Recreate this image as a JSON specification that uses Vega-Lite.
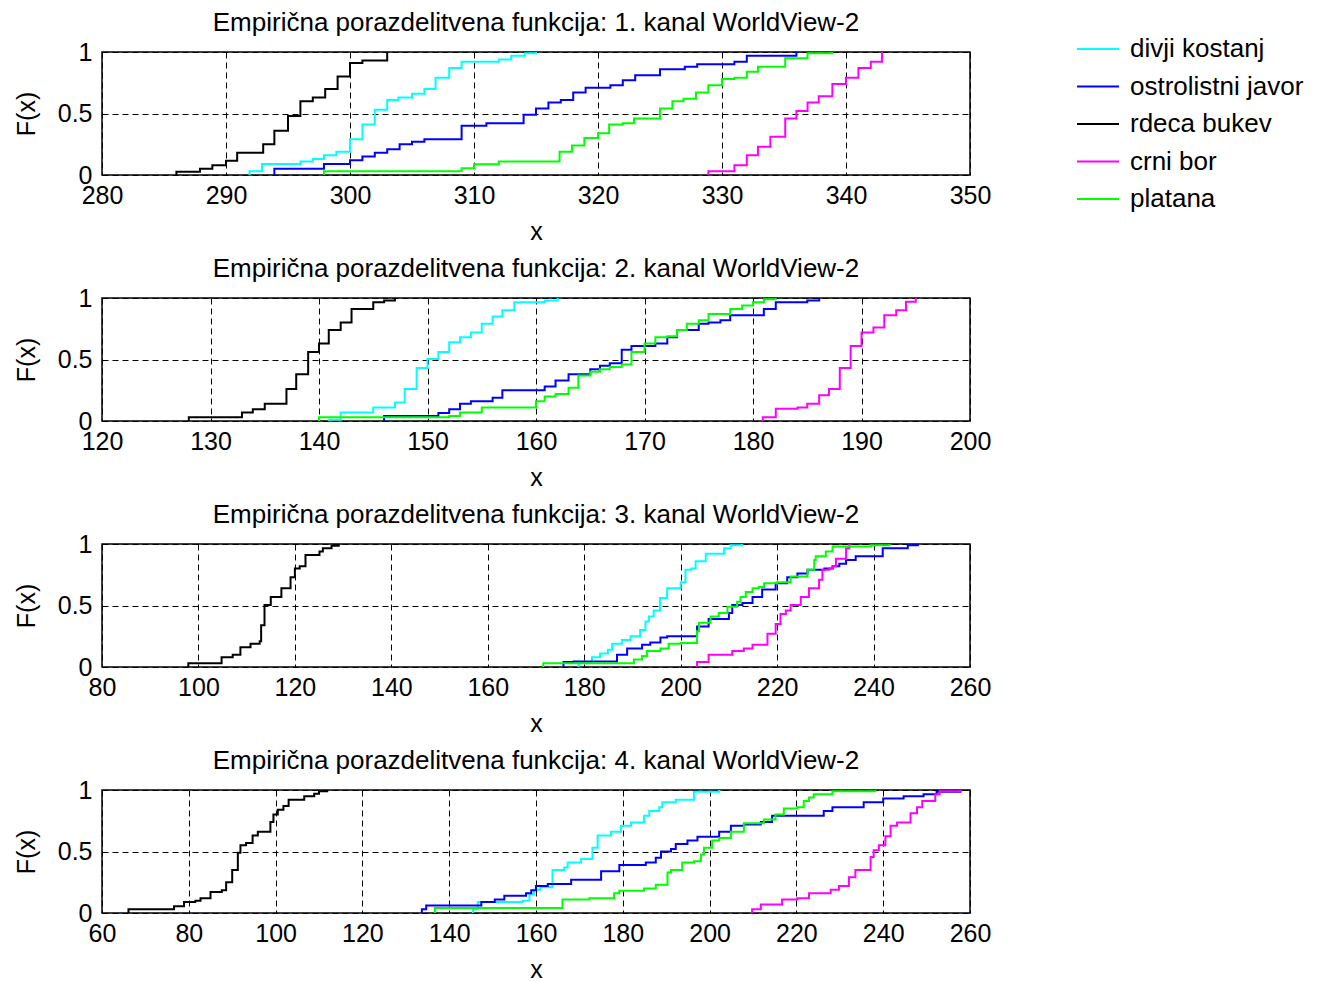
{
"$schema": "https://vega.github.io/schema/vega-lite/v6.json",
"background": "white",
"padding": {"left": 13, "top": 9, "right": 10, "bottom": 5},
"datasets": {"d": [
{"p":1,"s":"divji kostanj","x":291.9,"F":0},{"p":1,"s":"divji kostanj","x":291.9,"F":0.03},{"p":1,"s":"divji kostanj","x":292.9,"F":0.09},{"p":1,"s":"divji kostanj","x":296,"F":0.11},{"p":1,"s":"divji kostanj","x":297,"F":0.13},{"p":1,"s":"divji kostanj","x":297.9,"F":0.16},{"p":1,"s":"divji kostanj","x":298.9,"F":0.19},{"p":1,"s":"divji kostanj","x":300,"F":0.29},{"p":1,"s":"divji kostanj","x":301,"F":0.41},{"p":1,"s":"divji kostanj","x":302,"F":0.53},{"p":1,"s":"divji kostanj","x":303,"F":0.61},{"p":1,"s":"divji kostanj","x":303.9,"F":0.63},{"p":1,"s":"divji kostanj","x":305,"F":0.66},{"p":1,"s":"divji kostanj","x":306,"F":0.70},{"p":1,"s":"divji kostanj","x":306.9,"F":0.79},{"p":1,"s":"divji kostanj","x":308,"F":0.87},{"p":1,"s":"divji kostanj","x":309,"F":0.92},{"p":1,"s":"divji kostanj","x":312,"F":0.94},{"p":1,"s":"divji kostanj","x":313,"F":0.97},{"p":1,"s":"divji kostanj","x":314.1,"F":0.99},{"p":1,"s":"divji kostanj","x":315,"F":1},
{"p":1,"s":"ostrolistni javor","x":293.9,"F":0},{"p":1,"s":"ostrolistni javor","x":293.9,"F":0.05},{"p":1,"s":"ostrolistni javor","x":297.9,"F":0.09},{"p":1,"s":"ostrolistni javor","x":300,"F":0.12},{"p":1,"s":"ostrolistni javor","x":301,"F":0.15},{"p":1,"s":"ostrolistni javor","x":302,"F":0.18},{"p":1,"s":"ostrolistni javor","x":303,"F":0.21},{"p":1,"s":"ostrolistni javor","x":304,"F":0.25},{"p":1,"s":"ostrolistni javor","x":305,"F":0.27},{"p":1,"s":"ostrolistni javor","x":306,"F":0.29},{"p":1,"s":"ostrolistni javor","x":309,"F":0.40},{"p":1,"s":"ostrolistni javor","x":311,"F":0.42},{"p":1,"s":"ostrolistni javor","x":314,"F":0.49},{"p":1,"s":"ostrolistni javor","x":315,"F":0.54},{"p":1,"s":"ostrolistni javor","x":316,"F":0.59},{"p":1,"s":"ostrolistni javor","x":317,"F":0.61},{"p":1,"s":"ostrolistni javor","x":318,"F":0.67},{"p":1,"s":"ostrolistni javor","x":319,"F":0.71},{"p":1,"s":"ostrolistni javor","x":321,"F":0.73},{"p":1,"s":"ostrolistni javor","x":322,"F":0.77},{"p":1,"s":"ostrolistni javor","x":323,"F":0.81},{"p":1,"s":"ostrolistni javor","x":325,"F":0.86},{"p":1,"s":"ostrolistni javor","x":327,"F":0.88},{"p":1,"s":"ostrolistni javor","x":328,"F":0.90},{"p":1,"s":"ostrolistni javor","x":331,"F":0.92},{"p":1,"s":"ostrolistni javor","x":332,"F":0.97},{"p":1,"s":"ostrolistni javor","x":336,"F":1},
{"p":1,"s":"rdeca bukev","x":286,"F":0},{"p":1,"s":"rdeca bukev","x":286,"F":0.027},{"p":1,"s":"rdeca bukev","x":287.9,"F":0.05},{"p":1,"s":"rdeca bukev","x":288.9,"F":0.08},{"p":1,"s":"rdeca bukev","x":290,"F":0.115},{"p":1,"s":"rdeca bukev","x":290.9,"F":0.18},{"p":1,"s":"rdeca bukev","x":293,"F":0.25},{"p":1,"s":"rdeca bukev","x":293.9,"F":0.36},{"p":1,"s":"rdeca bukev","x":295,"F":0.48},{"p":1,"s":"rdeca bukev","x":296,"F":0.60},{"p":1,"s":"rdeca bukev","x":297,"F":0.63},{"p":1,"s":"rdeca bukev","x":298,"F":0.70},{"p":1,"s":"rdeca bukev","x":299,"F":0.80},{"p":1,"s":"rdeca bukev","x":300,"F":0.91},{"p":1,"s":"rdeca bukev","x":301,"F":0.93},{"p":1,"s":"rdeca bukev","x":303,"F":1},
{"p":1,"s":"crni bor","x":328.9,"F":0},{"p":1,"s":"crni bor","x":328.9,"F":0.03},{"p":1,"s":"crni bor","x":331,"F":0.08},{"p":1,"s":"crni bor","x":332,"F":0.16},{"p":1,"s":"crni bor","x":332.9,"F":0.23},{"p":1,"s":"crni bor","x":333.9,"F":0.31},{"p":1,"s":"crni bor","x":335.1,"F":0.46},{"p":1,"s":"crni bor","x":336,"F":0.52},{"p":1,"s":"crni bor","x":336.9,"F":0.59},{"p":1,"s":"crni bor","x":337.8,"F":0.64},{"p":1,"s":"crni bor","x":338.9,"F":0.74},{"p":1,"s":"crni bor","x":340,"F":0.79},{"p":1,"s":"crni bor","x":341,"F":0.87},{"p":1,"s":"crni bor","x":342,"F":0.92},{"p":1,"s":"crni bor","x":342.9,"F":1},
{"p":1,"s":"platana","x":297.9,"F":0},{"p":1,"s":"platana","x":297.9,"F":0.03},{"p":1,"s":"platana","x":309,"F":0.055},{"p":1,"s":"platana","x":310,"F":0.088},{"p":1,"s":"platana","x":312,"F":0.11},{"p":1,"s":"platana","x":316.9,"F":0.19},{"p":1,"s":"platana","x":317.9,"F":0.24},{"p":1,"s":"platana","x":318.9,"F":0.30},{"p":1,"s":"platana","x":320,"F":0.34},{"p":1,"s":"platana","x":320.9,"F":0.41},{"p":1,"s":"platana","x":322,"F":0.42},{"p":1,"s":"platana","x":322.9,"F":0.46},{"p":1,"s":"platana","x":325,"F":0.54},{"p":1,"s":"platana","x":326,"F":0.60},{"p":1,"s":"platana","x":326.9,"F":0.62},{"p":1,"s":"platana","x":327.9,"F":0.67},{"p":1,"s":"platana","x":328.9,"F":0.73},{"p":1,"s":"platana","x":330,"F":0.78},{"p":1,"s":"platana","x":331,"F":0.79},{"p":1,"s":"platana","x":332,"F":0.84},{"p":1,"s":"platana","x":332.9,"F":0.88},{"p":1,"s":"platana","x":335.1,"F":0.95},{"p":1,"s":"platana","x":336.9,"F":0.99},{"p":1,"s":"platana","x":338.9,"F":1},
{"p":2,"s":"divji kostanj","x":140.9,"F":0},{"p":2,"s":"divji kostanj","x":140.9,"F":0.01},{"p":2,"s":"divji kostanj","x":142,"F":0.07},{"p":2,"s":"divji kostanj","x":145,"F":0.11},{"p":2,"s":"divji kostanj","x":147,"F":0.15},{"p":2,"s":"divji kostanj","x":147.9,"F":0.26},{"p":2,"s":"divji kostanj","x":149,"F":0.43},{"p":2,"s":"divji kostanj","x":150,"F":0.505},{"p":2,"s":"divji kostanj","x":151,"F":0.56},{"p":2,"s":"divji kostanj","x":152,"F":0.64},{"p":2,"s":"divji kostanj","x":153,"F":0.68},{"p":2,"s":"divji kostanj","x":154,"F":0.72},{"p":2,"s":"divji kostanj","x":155,"F":0.79},{"p":2,"s":"divji kostanj","x":156,"F":0.85},{"p":2,"s":"divji kostanj","x":156.9,"F":0.90},{"p":2,"s":"divji kostanj","x":158,"F":0.965},{"p":2,"s":"divji kostanj","x":160.8,"F":0.98},{"p":2,"s":"divji kostanj","x":162,"F":1},
{"p":2,"s":"ostrolistni javor","x":146,"F":0},{"p":2,"s":"ostrolistni javor","x":146,"F":0.04},{"p":2,"s":"ostrolistni javor","x":151,"F":0.065},{"p":2,"s":"ostrolistni javor","x":152,"F":0.095},{"p":2,"s":"ostrolistni javor","x":153,"F":0.14},{"p":2,"s":"ostrolistni javor","x":154,"F":0.16},{"p":2,"s":"ostrolistni javor","x":156,"F":0.19},{"p":2,"s":"ostrolistni javor","x":156.9,"F":0.25},{"p":2,"s":"ostrolistni javor","x":160.8,"F":0.28},{"p":2,"s":"ostrolistni javor","x":161.8,"F":0.33},{"p":2,"s":"ostrolistni javor","x":163,"F":0.38},{"p":2,"s":"ostrolistni javor","x":165,"F":0.42},{"p":2,"s":"ostrolistni javor","x":165.9,"F":0.45},{"p":2,"s":"ostrolistni javor","x":166.8,"F":0.47},{"p":2,"s":"ostrolistni javor","x":167.9,"F":0.58},{"p":2,"s":"ostrolistni javor","x":168.8,"F":0.61},{"p":2,"s":"ostrolistni javor","x":171,"F":0.63},{"p":2,"s":"ostrolistni javor","x":172.1,"F":0.68},{"p":2,"s":"ostrolistni javor","x":173,"F":0.74},{"p":2,"s":"ostrolistni javor","x":175,"F":0.79},{"p":2,"s":"ostrolistni javor","x":175.9,"F":0.80},{"p":2,"s":"ostrolistni javor","x":177,"F":0.82},{"p":2,"s":"ostrolistni javor","x":177.9,"F":0.86},{"p":2,"s":"ostrolistni javor","x":181,"F":0.91},{"p":2,"s":"ostrolistni javor","x":182.1,"F":0.965},{"p":2,"s":"ostrolistni javor","x":185,"F":0.98},{"p":2,"s":"ostrolistni javor","x":186.1,"F":1},
{"p":2,"s":"rdeca bukev","x":128,"F":0},{"p":2,"s":"rdeca bukev","x":128,"F":0.03},{"p":2,"s":"rdeca bukev","x":132.9,"F":0.07},{"p":2,"s":"rdeca bukev","x":133.9,"F":0.095},{"p":2,"s":"rdeca bukev","x":135,"F":0.14},{"p":2,"s":"rdeca bukev","x":137,"F":0.26},{"p":2,"s":"rdeca bukev","x":137.9,"F":0.38},{"p":2,"s":"rdeca bukev","x":139,"F":0.56},{"p":2,"s":"rdeca bukev","x":140,"F":0.63},{"p":2,"s":"rdeca bukev","x":140.9,"F":0.74},{"p":2,"s":"rdeca bukev","x":142,"F":0.80},{"p":2,"s":"rdeca bukev","x":143,"F":0.91},{"p":2,"s":"rdeca bukev","x":145,"F":0.965},{"p":2,"s":"rdeca bukev","x":146,"F":0.98},{"p":2,"s":"rdeca bukev","x":147,"F":1},
{"p":2,"s":"crni bor","x":180.9,"F":0},{"p":2,"s":"crni bor","x":180.9,"F":0.03},{"p":2,"s":"crni bor","x":182.1,"F":0.10},{"p":2,"s":"crni bor","x":184.1,"F":0.11},{"p":2,"s":"crni bor","x":185,"F":0.14},{"p":2,"s":"crni bor","x":186.1,"F":0.21},{"p":2,"s":"crni bor","x":187,"F":0.26},{"p":2,"s":"crni bor","x":188,"F":0.43},{"p":2,"s":"crni bor","x":189,"F":0.61},{"p":2,"s":"crni bor","x":190,"F":0.72},{"p":2,"s":"crni bor","x":191.1,"F":0.76},{"p":2,"s":"crni bor","x":192.1,"F":0.86},{"p":2,"s":"crni bor","x":193.2,"F":0.90},{"p":2,"s":"crni bor","x":194.1,"F":0.97},{"p":2,"s":"crni bor","x":195,"F":1},
{"p":2,"s":"platana","x":140,"F":0},{"p":2,"s":"platana","x":140,"F":0.03},{"p":2,"s":"platana","x":152,"F":0.04},{"p":2,"s":"platana","x":153,"F":0.07},{"p":2,"s":"platana","x":155,"F":0.11},{"p":2,"s":"platana","x":160,"F":0.16},{"p":2,"s":"platana","x":160.8,"F":0.20},{"p":2,"s":"platana","x":161.8,"F":0.22},{"p":2,"s":"platana","x":163,"F":0.27},{"p":2,"s":"platana","x":163.9,"F":0.37},{"p":2,"s":"platana","x":165,"F":0.40},{"p":2,"s":"platana","x":165.9,"F":0.42},{"p":2,"s":"platana","x":166.8,"F":0.44},{"p":2,"s":"platana","x":167.9,"F":0.46},{"p":2,"s":"platana","x":168.8,"F":0.56},{"p":2,"s":"platana","x":170,"F":0.63},{"p":2,"s":"platana","x":171,"F":0.68},{"p":2,"s":"platana","x":172.1,"F":0.69},{"p":2,"s":"platana","x":173,"F":0.74},{"p":2,"s":"platana","x":173.9,"F":0.79},{"p":2,"s":"platana","x":175,"F":0.82},{"p":2,"s":"platana","x":175.9,"F":0.87},{"p":2,"s":"platana","x":177.9,"F":0.91},{"p":2,"s":"platana","x":179,"F":0.94},{"p":2,"s":"platana","x":180,"F":0.965},{"p":2,"s":"platana","x":181,"F":0.99},{"p":2,"s":"platana","x":182.1,"F":1},
{"p":3,"s":"divji kostanj","x":178.8,"F":0},{"p":3,"s":"divji kostanj","x":178.8,"F":0.04},{"p":3,"s":"divji kostanj","x":181.6,"F":0.08},{"p":3,"s":"divji kostanj","x":183.3,"F":0.11},{"p":3,"s":"divji kostanj","x":184.9,"F":0.14},{"p":3,"s":"divji kostanj","x":185.8,"F":0.19},{"p":3,"s":"divji kostanj","x":187.8,"F":0.22},{"p":3,"s":"divji kostanj","x":189.6,"F":0.25},{"p":3,"s":"divji kostanj","x":191.6,"F":0.30},{"p":3,"s":"divji kostanj","x":192.7,"F":0.37},{"p":3,"s":"divji kostanj","x":193.4,"F":0.41},{"p":3,"s":"divji kostanj","x":194.4,"F":0.46},{"p":3,"s":"divji kostanj","x":195.7,"F":0.56},{"p":3,"s":"divji kostanj","x":197.2,"F":0.64},{"p":3,"s":"divji kostanj","x":200,"F":0.69},{"p":3,"s":"divji kostanj","x":201,"F":0.79},{"p":3,"s":"divji kostanj","x":202.2,"F":0.80},{"p":3,"s":"divji kostanj","x":203.1,"F":0.86},{"p":3,"s":"divji kostanj","x":205.2,"F":0.92},{"p":3,"s":"divji kostanj","x":209,"F":0.965},{"p":3,"s":"divji kostanj","x":210.4,"F":0.99},{"p":3,"s":"divji kostanj","x":212.8,"F":1},
{"p":3,"s":"ostrolistni javor","x":175.7,"F":0},{"p":3,"s":"ostrolistni javor","x":175.7,"F":0.04},{"p":3,"s":"ostrolistni javor","x":177.8,"F":0.045},{"p":3,"s":"ostrolistni javor","x":186.8,"F":0.10},{"p":3,"s":"ostrolistni javor","x":188.9,"F":0.15},{"p":3,"s":"ostrolistni javor","x":192,"F":0.18},{"p":3,"s":"ostrolistni javor","x":193.7,"F":0.20},{"p":3,"s":"ostrolistni javor","x":195.8,"F":0.24},{"p":3,"s":"ostrolistni javor","x":197.2,"F":0.25},{"p":3,"s":"ostrolistni javor","x":203.4,"F":0.33},{"p":3,"s":"ostrolistni javor","x":205.8,"F":0.39},{"p":3,"s":"ostrolistni javor","x":210,"F":0.44},{"p":3,"s":"ostrolistni javor","x":210.7,"F":0.505},{"p":3,"s":"ostrolistni javor","x":212.8,"F":0.52},{"p":3,"s":"ostrolistni javor","x":214.9,"F":0.57},{"p":3,"s":"ostrolistni javor","x":216.9,"F":0.63},{"p":3,"s":"ostrolistni javor","x":219.7,"F":0.68},{"p":3,"s":"ostrolistni javor","x":222.1,"F":0.73},{"p":3,"s":"ostrolistni javor","x":224.2,"F":0.76},{"p":3,"s":"ostrolistni javor","x":226.3,"F":0.79},{"p":3,"s":"ostrolistni javor","x":229.8,"F":0.80},{"p":3,"s":"ostrolistni javor","x":231.5,"F":0.82},{"p":3,"s":"ostrolistni javor","x":232.9,"F":0.84},{"p":3,"s":"ostrolistni javor","x":234.3,"F":0.87},{"p":3,"s":"ostrolistni javor","x":236.3,"F":0.90},{"p":3,"s":"ostrolistni javor","x":241.9,"F":0.965},{"p":3,"s":"ostrolistni javor","x":247.1,"F":0.99},{"p":3,"s":"ostrolistni javor","x":249.2,"F":1},
{"p":3,"s":"rdeca bukev","x":97.9,"F":0},{"p":3,"s":"rdeca bukev","x":97.9,"F":0.03},{"p":3,"s":"rdeca bukev","x":104.8,"F":0.08},{"p":3,"s":"rdeca bukev","x":107.1,"F":0.10},{"p":3,"s":"rdeca bukev","x":108.7,"F":0.16},{"p":3,"s":"rdeca bukev","x":110.8,"F":0.19},{"p":3,"s":"rdeca bukev","x":112.7,"F":0.21},{"p":3,"s":"rdeca bukev","x":113,"F":0.34},{"p":3,"s":"rdeca bukev","x":113.7,"F":0.505},{"p":3,"s":"rdeca bukev","x":115,"F":0.57},{"p":3,"s":"rdeca bukev","x":117.2,"F":0.64},{"p":3,"s":"rdeca bukev","x":119.1,"F":0.73},{"p":3,"s":"rdeca bukev","x":120,"F":0.80},{"p":3,"s":"rdeca bukev","x":121,"F":0.82},{"p":3,"s":"rdeca bukev","x":122.2,"F":0.91},{"p":3,"s":"rdeca bukev","x":125.1,"F":0.94},{"p":3,"s":"rdeca bukev","x":125.8,"F":0.965},{"p":3,"s":"rdeca bukev","x":127.6,"F":0.985},{"p":3,"s":"rdeca bukev","x":129.1,"F":1},
{"p":3,"s":"crni bor","x":203.4,"F":0},{"p":3,"s":"crni bor","x":203.4,"F":0.04},{"p":3,"s":"crni bor","x":205.8,"F":0.10},{"p":3,"s":"crni bor","x":210.7,"F":0.13},{"p":3,"s":"crni bor","x":213.1,"F":0.15},{"p":3,"s":"crni bor","x":214.9,"F":0.18},{"p":3,"s":"crni bor","x":218,"F":0.27},{"p":3,"s":"crni bor","x":219.7,"F":0.35},{"p":3,"s":"crni bor","x":220.7,"F":0.43},{"p":3,"s":"crni bor","x":221.8,"F":0.46},{"p":3,"s":"crni bor","x":222.8,"F":0.505},{"p":3,"s":"crni bor","x":224.9,"F":0.57},{"p":3,"s":"crni bor","x":226.6,"F":0.64},{"p":3,"s":"crni bor","x":228.7,"F":0.71},{"p":3,"s":"crni bor","x":229.4,"F":0.79},{"p":3,"s":"crni bor","x":230.8,"F":0.80},{"p":3,"s":"crni bor","x":231.5,"F":0.82},{"p":3,"s":"crni bor","x":232.2,"F":0.88},{"p":3,"s":"crni bor","x":234.3,"F":0.965},{"p":3,"s":"crni bor","x":235,"F":1},
{"p":3,"s":"platana","x":171.5,"F":0},{"p":3,"s":"platana","x":171.5,"F":0.03},{"p":3,"s":"platana","x":190.3,"F":0.06},{"p":3,"s":"platana","x":192,"F":0.09},{"p":3,"s":"platana","x":193,"F":0.13},{"p":3,"s":"platana","x":195.8,"F":0.15},{"p":3,"s":"platana","x":197.5,"F":0.19},{"p":3,"s":"platana","x":200,"F":0.195},{"p":3,"s":"platana","x":203.4,"F":0.29},{"p":3,"s":"platana","x":203.8,"F":0.36},{"p":3,"s":"platana","x":206.2,"F":0.41},{"p":3,"s":"platana","x":207.9,"F":0.44},{"p":3,"s":"platana","x":209.7,"F":0.49},{"p":3,"s":"platana","x":211.7,"F":0.53},{"p":3,"s":"platana","x":212.4,"F":0.57},{"p":3,"s":"platana","x":213.5,"F":0.61},{"p":3,"s":"platana","x":214.9,"F":0.64},{"p":3,"s":"platana","x":216.2,"F":0.65},{"p":3,"s":"platana","x":217.3,"F":0.68},{"p":3,"s":"platana","x":220,"F":0.69},{"p":3,"s":"platana","x":222.8,"F":0.735},{"p":3,"s":"platana","x":226.3,"F":0.79},{"p":3,"s":"platana","x":227.7,"F":0.87},{"p":3,"s":"platana","x":228,"F":0.90},{"p":3,"s":"platana","x":230.1,"F":0.94},{"p":3,"s":"platana","x":231.5,"F":0.98},{"p":3,"s":"platana","x":239.5,"F":0.99},{"p":3,"s":"platana","x":243.3,"F":1},
{"p":4,"s":"divji kostanj","x":145.5,"F":0},{"p":4,"s":"divji kostanj","x":145.5,"F":0.03},{"p":4,"s":"divji kostanj","x":146.6,"F":0.09},{"p":4,"s":"divji kostanj","x":156.9,"F":0.10},{"p":4,"s":"divji kostanj","x":158.5,"F":0.15},{"p":4,"s":"divji kostanj","x":159.5,"F":0.19},{"p":4,"s":"divji kostanj","x":161,"F":0.21},{"p":4,"s":"divji kostanj","x":163.8,"F":0.35},{"p":4,"s":"divji kostanj","x":166.5,"F":0.37},{"p":4,"s":"divji kostanj","x":167.3,"F":0.41},{"p":4,"s":"divji kostanj","x":170.4,"F":0.44},{"p":4,"s":"divji kostanj","x":173,"F":0.53},{"p":4,"s":"divji kostanj","x":174.2,"F":0.63},{"p":4,"s":"divji kostanj","x":177.3,"F":0.66},{"p":4,"s":"divji kostanj","x":179.6,"F":0.71},{"p":4,"s":"divji kostanj","x":181.9,"F":0.735},{"p":4,"s":"divji kostanj","x":184.9,"F":0.79},{"p":4,"s":"divji kostanj","x":186.1,"F":0.83},{"p":4,"s":"divji kostanj","x":188.4,"F":0.86},{"p":4,"s":"divji kostanj","x":189.1,"F":0.90},{"p":4,"s":"divji kostanj","x":192.2,"F":0.92},{"p":4,"s":"divji kostanj","x":196.4,"F":0.985},{"p":4,"s":"divji kostanj","x":202.2,"F":1},
{"p":4,"s":"ostrolistni javor","x":133.7,"F":0},{"p":4,"s":"ostrolistni javor","x":133.7,"F":0.03},{"p":4,"s":"ostrolistni javor","x":134.7,"F":0.06},{"p":4,"s":"ostrolistni javor","x":147.4,"F":0.09},{"p":4,"s":"ostrolistni javor","x":150.5,"F":0.11},{"p":4,"s":"ostrolistni javor","x":152.7,"F":0.14},{"p":4,"s":"ostrolistni javor","x":157.7,"F":0.16},{"p":4,"s":"ostrolistni javor","x":158.9,"F":0.185},{"p":4,"s":"ostrolistni javor","x":160,"F":0.22},{"p":4,"s":"ostrolistni javor","x":162.7,"F":0.235},{"p":4,"s":"ostrolistni javor","x":168.1,"F":0.27},{"p":4,"s":"ostrolistni javor","x":175,"F":0.34},{"p":4,"s":"ostrolistni javor","x":179.2,"F":0.39},{"p":4,"s":"ostrolistni javor","x":185.3,"F":0.41},{"p":4,"s":"ostrolistni javor","x":187.6,"F":0.45},{"p":4,"s":"ostrolistni javor","x":188.8,"F":0.50},{"p":4,"s":"ostrolistni javor","x":191.1,"F":0.52},{"p":4,"s":"ostrolistni javor","x":192.2,"F":0.56},{"p":4,"s":"ostrolistni javor","x":194.9,"F":0.59},{"p":4,"s":"ostrolistni javor","x":197.2,"F":0.62},{"p":4,"s":"ostrolistni javor","x":202.2,"F":0.66},{"p":4,"s":"ostrolistni javor","x":204.9,"F":0.71},{"p":4,"s":"ostrolistni javor","x":207.9,"F":0.72},{"p":4,"s":"ostrolistni javor","x":211.8,"F":0.74},{"p":4,"s":"ostrolistni javor","x":214.4,"F":0.79},{"p":4,"s":"ostrolistni javor","x":226.3,"F":0.83},{"p":4,"s":"ostrolistni javor","x":228.3,"F":0.86},{"p":4,"s":"ostrolistni javor","x":235.5,"F":0.90},{"p":4,"s":"ostrolistni javor","x":240,"F":0.93},{"p":4,"s":"ostrolistni javor","x":244.7,"F":0.95},{"p":4,"s":"ostrolistni javor","x":249.3,"F":0.965},{"p":4,"s":"ostrolistni javor","x":252.3,"F":0.985},{"p":4,"s":"ostrolistni javor","x":257.8,"F":1},
{"p":4,"s":"rdeca bukev","x":66.1,"F":0},{"p":4,"s":"rdeca bukev","x":66.1,"F":0.03},{"p":4,"s":"rdeca bukev","x":76.6,"F":0.055},{"p":4,"s":"rdeca bukev","x":78.9,"F":0.09},{"p":4,"s":"rdeca bukev","x":81.5,"F":0.10},{"p":4,"s":"rdeca bukev","x":82.7,"F":0.12},{"p":4,"s":"rdeca bukev","x":85,"F":0.17},{"p":4,"s":"rdeca bukev","x":87.6,"F":0.185},{"p":4,"s":"rdeca bukev","x":88.6,"F":0.25},{"p":4,"s":"rdeca bukev","x":90,"F":0.35},{"p":4,"s":"rdeca bukev","x":91.3,"F":0.49},{"p":4,"s":"rdeca bukev","x":91.9,"F":0.55},{"p":4,"s":"rdeca bukev","x":93.2,"F":0.57},{"p":4,"s":"rdeca bukev","x":94.7,"F":0.63},{"p":4,"s":"rdeca bukev","x":95.9,"F":0.66},{"p":4,"s":"rdeca bukev","x":98.8,"F":0.74},{"p":4,"s":"rdeca bukev","x":99.5,"F":0.80},{"p":4,"s":"rdeca bukev","x":100.5,"F":0.84},{"p":4,"s":"rdeca bukev","x":101.8,"F":0.87},{"p":4,"s":"rdeca bukev","x":103,"F":0.92},{"p":4,"s":"rdeca bukev","x":106.6,"F":0.95},{"p":4,"s":"rdeca bukev","x":108.9,"F":0.97},{"p":4,"s":"rdeca bukev","x":110,"F":0.99},{"p":4,"s":"rdeca bukev","x":111.9,"F":1},
{"p":4,"s":"crni bor","x":209.8,"F":0},{"p":4,"s":"crni bor","x":209.8,"F":0.03},{"p":4,"s":"crni bor","x":211.8,"F":0.07},{"p":4,"s":"crni bor","x":216.7,"F":0.11},{"p":4,"s":"crni bor","x":220.2,"F":0.12},{"p":4,"s":"crni bor","x":222.9,"F":0.16},{"p":4,"s":"crni bor","x":227.9,"F":0.19},{"p":4,"s":"crni bor","x":229.8,"F":0.22},{"p":4,"s":"crni bor","x":232.1,"F":0.29},{"p":4,"s":"crni bor","x":233.6,"F":0.35},{"p":4,"s":"crni bor","x":237.1,"F":0.455},{"p":4,"s":"crni bor","x":237.8,"F":0.51},{"p":4,"s":"crni bor","x":239,"F":0.55},{"p":4,"s":"crni bor","x":240.5,"F":0.625},{"p":4,"s":"crni bor","x":241.7,"F":0.71},{"p":4,"s":"crni bor","x":243.2,"F":0.735},{"p":4,"s":"crni bor","x":246.3,"F":0.81},{"p":4,"s":"crni bor","x":247.8,"F":0.86},{"p":4,"s":"crni bor","x":249,"F":0.91},{"p":4,"s":"crni bor","x":252,"F":0.965},{"p":4,"s":"crni bor","x":253,"F":0.99},{"p":4,"s":"crni bor","x":257.8,"F":1},
{"p":4,"s":"platana","x":136.7,"F":0},{"p":4,"s":"platana","x":136.7,"F":0.04},{"p":4,"s":"platana","x":166.1,"F":0.11},{"p":4,"s":"platana","x":172.3,"F":0.12},{"p":4,"s":"platana","x":178,"F":0.16},{"p":4,"s":"platana","x":179.2,"F":0.18},{"p":4,"s":"platana","x":184.9,"F":0.20},{"p":4,"s":"platana","x":187.6,"F":0.23},{"p":4,"s":"platana","x":190.3,"F":0.33},{"p":4,"s":"platana","x":191.1,"F":0.35},{"p":4,"s":"platana","x":193.7,"F":0.41},{"p":4,"s":"platana","x":196.4,"F":0.42},{"p":4,"s":"platana","x":198,"F":0.475},{"p":4,"s":"platana","x":198.7,"F":0.53},{"p":4,"s":"platana","x":200.6,"F":0.59},{"p":4,"s":"platana","x":202.2,"F":0.61},{"p":4,"s":"platana","x":204.9,"F":0.66},{"p":4,"s":"platana","x":207.9,"F":0.73},{"p":4,"s":"platana","x":212.5,"F":0.76},{"p":4,"s":"platana","x":215.2,"F":0.80},{"p":4,"s":"platana","x":217.1,"F":0.85},{"p":4,"s":"platana","x":220.2,"F":0.86},{"p":4,"s":"platana","x":221.7,"F":0.91},{"p":4,"s":"platana","x":222.9,"F":0.94},{"p":4,"s":"platana","x":224,"F":0.965},{"p":4,"s":"platana","x":228.3,"F":0.99},{"p":4,"s":"platana","x":238.2,"F":1}
]},
"bounds": "flush",
"spacing": 123,
"vconcat": [
{"title": "Empirična porazdelitvena funkcija: 1. kanal WorldView-2", "width": 868, "height": 123,
 "data": {"name": "d"}, "transform": [{"filter": "datum.p == 1"}],
 "mark": {"type": "line", "interpolate": "step-after", "strokeWidth": 2, "clip": true},
 "encoding": {
  "x": {"field": "x", "type": "quantitative", "scale": {"domain": [280, 350], "nice": false, "zero": false}, "axis": {"values": [280, 290, 300, 310, 320, 330, 340, 350], "title": "x"}},
  "y": {"field": "F", "type": "quantitative", "scale": {"domain": [0, 1], "nice": false}, "axis": {"values": [0, 0.5, 1], "format": "~g", "title": "F(x)"}},
  "color": {"field": "s", "type": "nominal", "scale": {"domain": ["divji kostanj", "ostrolistni javor", "rdeca bukev", "crni bor", "platana"], "range": ["#00FFFF", "#0000FF", "#000000", "#FF00FF", "#00FF00"]}}
 }},
{"title": "Empirična porazdelitvena funkcija: 2. kanal WorldView-2", "width": 868, "height": 123,
 "data": {"name": "d"}, "transform": [{"filter": "datum.p == 2"}],
 "mark": {"type": "line", "interpolate": "step-after", "strokeWidth": 2, "clip": true},
 "encoding": {
  "x": {"field": "x", "type": "quantitative", "scale": {"domain": [120, 200], "nice": false, "zero": false}, "axis": {"values": [120, 130, 140, 150, 160, 170, 180, 190, 200], "title": "x"}},
  "y": {"field": "F", "type": "quantitative", "scale": {"domain": [0, 1], "nice": false}, "axis": {"values": [0, 0.5, 1], "format": "~g", "title": "F(x)"}},
  "color": {"field": "s", "type": "nominal", "scale": {"domain": ["divji kostanj", "ostrolistni javor", "rdeca bukev", "crni bor", "platana"], "range": ["#00FFFF", "#0000FF", "#000000", "#FF00FF", "#00FF00"]}}
 }},
{"title": "Empirična porazdelitvena funkcija: 3. kanal WorldView-2", "width": 868, "height": 123,
 "data": {"name": "d"}, "transform": [{"filter": "datum.p == 3"}],
 "mark": {"type": "line", "interpolate": "step-after", "strokeWidth": 2, "clip": true},
 "encoding": {
  "x": {"field": "x", "type": "quantitative", "scale": {"domain": [80, 260], "nice": false, "zero": false}, "axis": {"values": [80, 100, 120, 140, 160, 180, 200, 220, 240, 260], "title": "x"}},
  "y": {"field": "F", "type": "quantitative", "scale": {"domain": [0, 1], "nice": false}, "axis": {"values": [0, 0.5, 1], "format": "~g", "title": "F(x)"}},
  "color": {"field": "s", "type": "nominal", "scale": {"domain": ["divji kostanj", "ostrolistni javor", "rdeca bukev", "crni bor", "platana"], "range": ["#00FFFF", "#0000FF", "#000000", "#FF00FF", "#00FF00"]}}
 }},
{"title": "Empirična porazdelitvena funkcija: 4. kanal WorldView-2", "width": 868, "height": 123,
 "data": {"name": "d"}, "transform": [{"filter": "datum.p == 4"}],
 "mark": {"type": "line", "interpolate": "step-after", "strokeWidth": 2, "clip": true},
 "encoding": {
  "x": {"field": "x", "type": "quantitative", "scale": {"domain": [60, 260], "nice": false, "zero": false}, "axis": {"values": [60, 80, 100, 120, 140, 160, 180, 200, 220, 240, 260], "title": "x"}},
  "y": {"field": "F", "type": "quantitative", "scale": {"domain": [0, 1], "nice": false}, "axis": {"values": [0, 0.5, 1], "format": "~g", "title": "F(x)"}},
  "color": {"field": "s", "type": "nominal", "scale": {"domain": ["divji kostanj", "ostrolistni javor", "rdeca bukev", "crni bor", "platana"], "range": ["#00FFFF", "#0000FF", "#000000", "#FF00FF", "#00FF00"]}}
 }}
],
"config": {
 "font": "Liberation Sans",
 "view": {"stroke": "#000000", "strokeWidth": 1.5},
 "axis": {"domain": false, "grid": true, "gridColor": "#000000", "gridDash": [6, 4], "gridOpacity": 1, "gridWidth": 1, "ticks": false,
  "labelFont": "Liberation Sans", "labelFontSize": 25, "labelColor": "#000000", "labelFlush": false, "labelOverlap": false, "labelBound": false,
  "titleFont": "Liberation Sans", "titleFontSize": 25, "titleFontWeight": "normal", "titleColor": "#000000"},
 "axisX": {"labelPadding": 8, "titlePadding": 11},
 "axisY": {"labelPadding": 10, "titlePadding": 18},
 "title": {"font": "Liberation Sans", "fontSize": 26, "fontWeight": "normal", "color": "#000000", "anchor": "middle", "offset": 4},
 "legend": {"orient": "none", "legendX": 980, "legendY": -19, "title": null, "symbolType": "M-1.4,0H1.4", "symbolSize": 900, "symbolStrokeWidth": 2,
  "labelFont": "Liberation Sans", "labelFontSize": 26, "labelColor": "#000000", "labelLimit": 0, "rowPadding": 8.5, "padding": 0, "labelOffset": 16, "offset": 0}
}
}
